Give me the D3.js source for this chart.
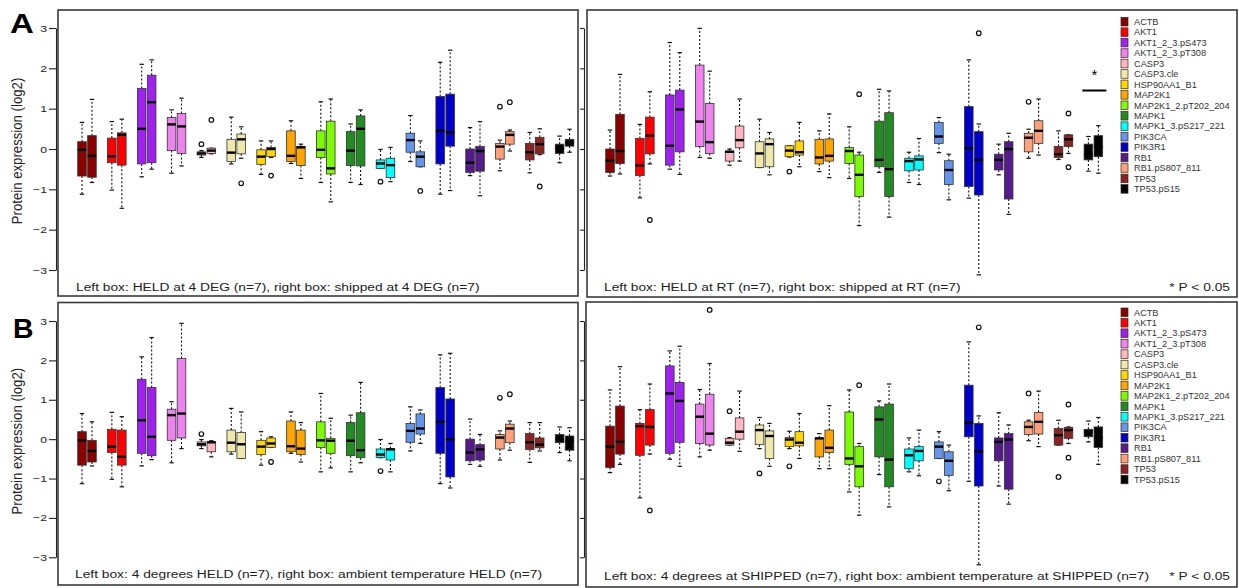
<!DOCTYPE html>
<html><head><meta charset="utf-8">
<script src="https://cdn.jsdelivr.net/npm/d3@7"></script>
<style>
body{margin:0;background:#fff;}
svg{display:block;}
text{font-family:"Liberation Sans",Arial,Helvetica,sans-serif;}
</style></head>
<body><svg id="c" width="1239" height="588"></svg>
<script>
// ---------------- DATA ----------------
const genes = ["ACTB","AKT1","AKT1_2_3.pS473","AKT1_2_3.pT308","CASP3","CASP3.cle","HSP90AA1_B1","MAP2K1","MAP2K1_2.pT202_204","MAPK1","MAPK1_3.pS217_221","PIK3CA","PIK3R1","RB1","RB1.pS807_811","TP53","TP53.pS15"];
const geneColors = ["#8b0000","#ff0000","#a020f0","#ee82ee","#ffb6c1","#eee8aa","#ffd700","#ffa500","#7cfc00","#228b22","#00ffff","#6495ed","#0000cd","#551a8b","#ffa07a","#8b2323","#000000"];
const yTicks = [-3,-2,-1,0,1,2,3];

// box stats: [lower whisker, Q1, median, Q3, upper whisker]
const heldAt4 = [[-1.12,-0.67,-0.02,0.18,0.66],[-1.02,-0.34,-0.18,0.27,0.68],[-0.69,-0.37,0.50,1.50,2.10],[-0.60,-0.04,0.61,0.78,0.97],[-0.21,-0.15,-0.11,-0.07,-0.04],[-0.37,-0.31,-0.09,0.24,0.79],[-0.63,-0.38,-0.19,-0.02,0.20],[-0.36,-0.31,-0.17,0.45,0.70],[-0.83,-0.21,-0.02,0.45,1.17],[-0.83,-0.41,-0.04,0.43,0.62],[-0.48,-0.48,-0.36,-0.27,-0.01],[-0.31,-0.08,0.22,0.39,0.83],[-1.12,-0.37,0.45,1.30,2.15],[-0.66,-0.58,-0.34,0.00,0.53],[-0.54,-0.25,0.06,0.14,0.22],[-0.59,-0.27,-0.08,0.14,0.41],[-0.34,-0.11,0.02,0.12,0.32]];
const shippedAt4 = [[-0.83,-0.70,-0.17,0.33,1.23],[-1.47,-0.40,0.35,0.40,0.74],[-0.50,-0.34,1.16,1.83,2.21],[-0.42,-0.11,0.56,0.88,1.26],[-0.12,-0.11,-0.04,0.02,0.02],[-0.23,-0.12,0.24,0.37,0.55],[-0.21,-0.19,0.00,0.04,0.20],[-0.73,-0.41,0.04,0.06,0.12],[-1.31,-0.62,-0.48,0.69,1.24],[-0.88,-0.42,0.50,0.82,0.97],[-0.81,-0.71,-0.40,-0.23,0.04],[-0.44,-0.44,-0.19,-0.07,0.20],[-1.03,0.07,0.41,1.36,2.45],[-1.16,-0.55,-0.05,0.06,0.68],[-0.05,0.12,0.35,0.43,0.47],[-0.14,-0.12,0.12,0.29,0.50],[-0.08,0.07,0.16,0.24,0.49]];
const heldAtRT = [[-0.67,-0.58,-0.29,0.00,0.47],[-1.21,-0.66,-0.41,0.26,0.61],[-0.50,-0.40,0.08,1.34,2.64],[-0.21,0.06,0.68,2.08,2.99],[-0.40,-0.30,-0.07,-0.05,0.00],[-0.46,-0.46,-0.11,0.18,0.74],[-0.20,-0.19,-0.04,0.08,0.08],[-0.56,-0.37,-0.21,0.24,0.45],[-0.73,-0.36,-0.05,0.04,0.55],[-0.58,-0.44,-0.27,0.69,1.48],[-0.83,-0.54,-0.30,-0.23,-0.08],[-0.09,0.14,0.31,0.66,0.78],[-1.22,-0.93,0.02,1.05,2.21],[-0.64,-0.52,-0.27,-0.13,0.12],[-0.23,-0.07,0.28,0.39,0.49],[-0.26,-0.21,-0.13,0.06,0.45],[-0.55,-0.27,-0.13,0.12,0.31]];
const shippedAtRT = [[-0.62,-0.36,-0.05,0.86,1.85],[-0.37,-0.12,0.33,0.79,1.42],[-0.63,-0.07,0.98,1.46,2.39],[-0.23,-0.11,0.17,1.13,1.93],[-0.30,0.03,0.22,0.57,1.24],[-0.64,-0.44,0.12,0.25,0.41],[-0.44,-0.15,-0.08,0.20,0.66],[-0.71,-0.30,-0.17,0.25,0.87],[-1.90,-1.18,-0.64,-0.15,-0.08],[-1.69,-1.18,-0.50,0.90,1.44],[-0.88,-0.52,-0.26,-0.17,0.26],[-1.26,-0.88,-0.52,-0.29,-0.13],[-3.12,-1.14,-0.27,0.43,0.62],[-1.62,-1.24,0.00,0.18,0.39],[-0.15,0.14,0.45,0.70,1.24],[-0.11,0.06,0.24,0.35,0.35],[-0.60,-0.19,0.06,0.33,0.58]];
const heldCold = [[-1.13,-0.66,-0.03,0.19,0.65],[-1.02,-0.34,-0.19,0.25,0.68],[-0.68,-0.36,0.48,1.52,2.09],[-0.60,-0.03,0.61,0.76,0.95],[-0.24,-0.17,-0.13,-0.07,-0.01],[-0.38,-0.32,-0.09,0.23,0.78],[-0.66,-0.39,-0.19,-0.03,0.19],[-0.36,-0.32,-0.18,0.46,0.69],[-0.83,-0.21,-0.03,0.44,1.16],[-0.83,-0.42,-0.04,0.42,0.61],[-0.47,-0.47,-0.39,-0.25,-0.01],[-0.30,-0.08,0.21,0.40,0.82],[-1.13,-0.36,0.44,1.31,2.14],[-0.64,-0.55,-0.34,0.00,0.51],[-0.53,-0.25,0.04,0.12,0.21],[-0.59,-0.26,-0.08,0.14,0.42],[-0.34,-0.09,0.00,0.12,0.31]];
const heldAmbient = [[-0.68,-0.58,-0.30,-0.03,0.44],[-1.21,-0.66,-0.45,0.23,0.57],[-0.52,-0.42,0.06,1.31,2.58],[-0.24,0.03,0.65,2.05,2.94],[-0.45,-0.32,-0.08,-0.07,-0.04],[-0.49,-0.49,-0.13,0.17,0.69],[-0.21,-0.21,-0.11,0.03,0.06],[-0.58,-0.39,-0.24,0.23,0.42],[-0.73,-0.36,-0.04,0.02,0.53],[-0.60,-0.47,-0.28,0.67,1.44],[-0.83,-0.53,-0.26,-0.24,-0.11],[-0.11,0.13,0.27,0.64,0.74],[-1.24,-0.96,0.00,1.02,2.18],[-0.69,-0.53,-0.26,-0.14,0.12],[-0.28,-0.09,0.27,0.38,0.46],[-0.30,-0.22,-0.14,0.03,0.42],[-0.55,-0.28,-0.04,0.08,0.29]];
const shippedCold = [[-0.85,-0.72,-0.19,0.33,1.25],[-1.49,-0.41,0.33,0.40,0.75],[-0.51,-0.36,1.16,1.86,2.24],[-0.45,-0.11,0.57,0.89,1.26],[-0.15,-0.15,-0.09,0.02,0.04],[-0.24,-0.14,0.23,0.36,0.55],[-0.24,-0.19,-0.01,0.04,0.20],[-0.75,-0.45,0.02,0.03,0.14],[-1.34,-0.64,-0.49,0.69,1.25],[-0.90,-0.45,0.50,0.82,0.97],[-0.83,-0.75,-0.41,-0.25,0.03],[-0.49,-0.49,-0.19,-0.07,0.19],[-1.07,0.06,0.42,1.37,2.47],[-1.19,-0.55,-0.07,0.03,0.67],[-0.04,0.12,0.31,0.44,0.48],[-0.15,-0.15,0.10,0.27,0.48],[-0.07,0.06,0.19,0.25,0.46]];
const shippedAmbient = [[-0.64,-0.38,-0.07,0.84,1.84],[-0.38,-0.15,0.31,0.75,1.40],[-0.69,-0.08,0.97,1.44,2.36],[-0.28,-0.15,0.14,1.14,1.92],[-0.31,0.00,0.19,0.54,1.22],[-0.69,-0.49,0.08,0.21,0.40],[-0.49,-0.17,-0.09,0.19,0.65],[-0.75,-0.34,-0.22,0.23,0.85],[-1.93,-1.21,-0.69,-0.19,-0.11],[-1.72,-1.21,-0.52,0.89,1.40],[-0.93,-0.55,-0.30,-0.19,0.23],[-1.31,-0.92,-0.55,-0.32,-0.15],[-3.19,-1.19,-0.31,0.40,0.59],[-1.65,-1.27,-0.01,0.14,0.36],[-0.19,0.13,0.44,0.68,1.22],[-0.11,0.02,0.23,0.30,0.31],[-0.64,-0.21,0.04,0.31,0.55]];

// outliers: [gene index, value]
const heldAt4Out = [[4,0.12],[10,-0.81],[14,1.05]];
const shippedAt4Out = [[4,0.72],[5,-0.85],[6,-0.66],[11,-1.04],[14,1.16],[15,-0.93]];
const heldAtRTOut = [[6,-0.56],[14,1.17]];
const shippedAtRTOut = [[1,-1.76],[8,1.36],[12,2.87],[15,0.88],[15,-0.45]];
const heldColdOut = [[4,0.13],[10,-0.81],[14,1.05]];
const heldAmbientOut = [[6,-0.58],[14,1.14]];
const shippedColdOut = [[4,0.71],[5,-0.87],[6,-0.69],[11,-1.07],[14,1.16],[15,-0.96]];
const shippedAmbientOut = [[1,-1.81],[3,3.28],[8,1.37],[12,2.84],[15,0.88],[15,-0.47]];

const captions = [
  "Left box: HELD at 4 DEG (n=7), right box: shipped at 4 DEG (n=7)",
  "Left box: HELD at RT (n=7), right box: shipped at RT (n=7)",
  "Left box: 4 degrees HELD (n=7), right box: ambient temperature HELD (n=7)",
  "Left box: 4 degrees at SHIPPED (n=7), right box: ambient temperature at SHIPPED (n=7)"
];
const yTitle = "Protein expression (log2)";
const pNote = "* P < 0.05";
// significance mark (A, right panel): gene index, bar value
const sigGene = 16, sigBarValue = 1.45;

// ---------------- LAYOUT ----------------
const svg = d3.select("#c");
const SX = 1.22; // horizontal stretch of the source figure's text

const panels = [
  {frame:[58,10,578,296], yr:[270,28], xr:[82,559.6], left:heldAt4, right:shippedAt4, lo:heldAt4Out, ro:shippedAt4Out, cap:captions[0], axisX:56, labels:true, capY:290.5, capX:76},
  {frame:[587,10,1237,297], yr:[270,28], xr:[610,1088.4], left:heldAtRT, right:shippedAtRT, lo:heldAtRTOut, ro:shippedAtRTOut, cap:captions[1], axisX:584, labels:false, capY:290.5, capX:604, legendY:21.7, p:true, sig:true},
  {frame:[58,302.5,578,585], yr:[557.3,321], xr:[82,559.6], left:heldCold, right:heldAmbient, lo:heldColdOut, ro:heldAmbientOut, cap:captions[2], axisX:56, labels:true, capY:578, capX:75},
  {frame:[586,302,1237,587], yr:[557.3,321], xr:[610,1088.4], left:shippedCold, right:shippedAmbient, lo:shippedColdOut, ro:shippedAmbientOut, cap:captions[3], axisX:584, labels:false, capY:580, capX:604, legendY:312.3, p:true}
];

function stext(g, x, y, str, size, anchor, sx, weight){
  return g.append("text").attr("transform",`translate(${x},${y}) scale(${sx},1)`)
    .attr("text-anchor",anchor||"start").attr("font-size",size)
    .attr("font-weight",weight||"normal").attr("fill","#222").text(str);
}

panels.forEach((P,pi)=>{
  const g = svg.append("g");
  const y = d3.scaleLinear().domain([-3,3]).range(P.yr);
  const x = d3.scaleLinear().domain([1,49]).range(P.xr);
  const bw = 8.6;
  // frame
  const [x0,y0,x1,y1] = P.frame;
  g.append("rect").attr("x",x0).attr("y",y0).attr("width",x1-x0).attr("height",y1-y0)
    .attr("fill","none").attr("stroke","#3a3a3a").attr("stroke-width",1.6);
  // axis
  const ax = g.append("g").attr("transform",`translate(${P.axisX},0)`)
    .call(d3.axisLeft(y).tickValues(yTicks).tickSize(P.labels?7:4).tickSizeOuter(0).tickFormat(""));
  ax.selectAll("path,line").attr("stroke","#222").attr("stroke-width",1.1);
  if(P.labels){
    yTicks.forEach(t=>{
      stext(g, 47, y(t)+3.5, t<0?"\u2212"+Math.abs(t):String(t), 9.8, "end", 1.25);
    });
    const cy = (P.yr[0]+P.yr[1])/2 + 2;
    g.append("text").attr("transform",`translate(22,${cy}) scale(1.05,1) rotate(-90)`)
      .attr("text-anchor","middle").attr("font-size",13.2).attr("fill","#222").text(yTitle);
  }
  // boxes
  const sides = [{data:P.left, off:1, out:P.lo},{data:P.right, off:2, out:P.ro}];
  sides.forEach(s=>{
    s.data.forEach((b,i)=>{
      const cx = x(3*i + s.off);
      const [lo,q1,md,q3,hi] = b;
      const bg = g.append("g");
      // whiskers
      bg.append("line").attr("x1",cx).attr("x2",cx).attr("y1",y(q3)).attr("y2",y(hi))
        .attr("stroke","#111").attr("stroke-width",1.1).attr("stroke-dasharray","2,2");
      bg.append("line").attr("x1",cx).attr("x2",cx).attr("y1",y(q1)).attr("y2",y(lo))
        .attr("stroke","#111").attr("stroke-width",1.1).attr("stroke-dasharray","2,2");
      [lo,hi].forEach(v=>{
        bg.append("line").attr("x1",cx-2.2).attr("x2",cx+2.2).attr("y1",y(v)).attr("y2",y(v))
          .attr("stroke","#111").attr("stroke-width",1.2);
      });
      bg.append("rect").attr("x",cx-bw/2).attr("y",y(q3)).attr("width",bw)
        .attr("height",Math.max(0.8,y(q1)-y(q3)))
        .attr("fill",geneColors[i]).attr("stroke","#333").attr("stroke-width",0.8);
      bg.append("line").attr("x1",cx-bw/2).attr("x2",cx+bw/2).attr("y1",y(md)).attr("y2",y(md))
        .attr("stroke","#000").attr("stroke-width",2.4);
    });
    s.out.forEach(([i,v])=>{
      g.append("circle").attr("cx",x(3*i+s.off)).attr("cy",y(v)).attr("r",2.3)
        .attr("fill","none").attr("stroke","#111").attr("stroke-width",1.2);
    });
  });
  // caption
  stext(g, P.capX, P.capY, P.cap, 11.3, "start", SX);
  if(P.p) stext(g, 1230, P.capY, pNote, 11.3, "end", SX);
  // legend
  if(P.legendY!==undefined){
    const step = 10.45;
    genes.forEach((name,i)=>{
      const cy = P.legendY + i*step;
      g.append("rect").attr("x",1121).attr("y",cy-4.3).attr("width",7).attr("height",8.6)
        .attr("fill",geneColors[i]).attr("stroke","#3a2a20").attr("stroke-width",0.7);
      stext(g, 1134, cy+3.2, name, 8.6, "start", 1.07).attr("fill","#333");
    });
  }
  if(P.sig){
    const cx = (x(3*sigGene+1)+x(3*sigGene+2))/2 + 1;
    g.append("line").attr("x1",cx-12).attr("x2",cx+12).attr("y1",y(sigBarValue)).attr("y2",y(sigBarValue))
      .attr("stroke","#000").attr("stroke-width",2);
    g.append("text").attr("x",cx).attr("y",y(sigBarValue)-11).attr("text-anchor","middle")
      .attr("font-size",15).attr("fill","#000").text("*");
  }
});

// panel letters
stext(svg, 10, 33, "A", 28, "start", 1.18, "bold").attr("fill","#000");
stext(svg, 13, 338, "B", 27, "start", 1.05, "bold").attr("fill","#000");
</script></body></html>
